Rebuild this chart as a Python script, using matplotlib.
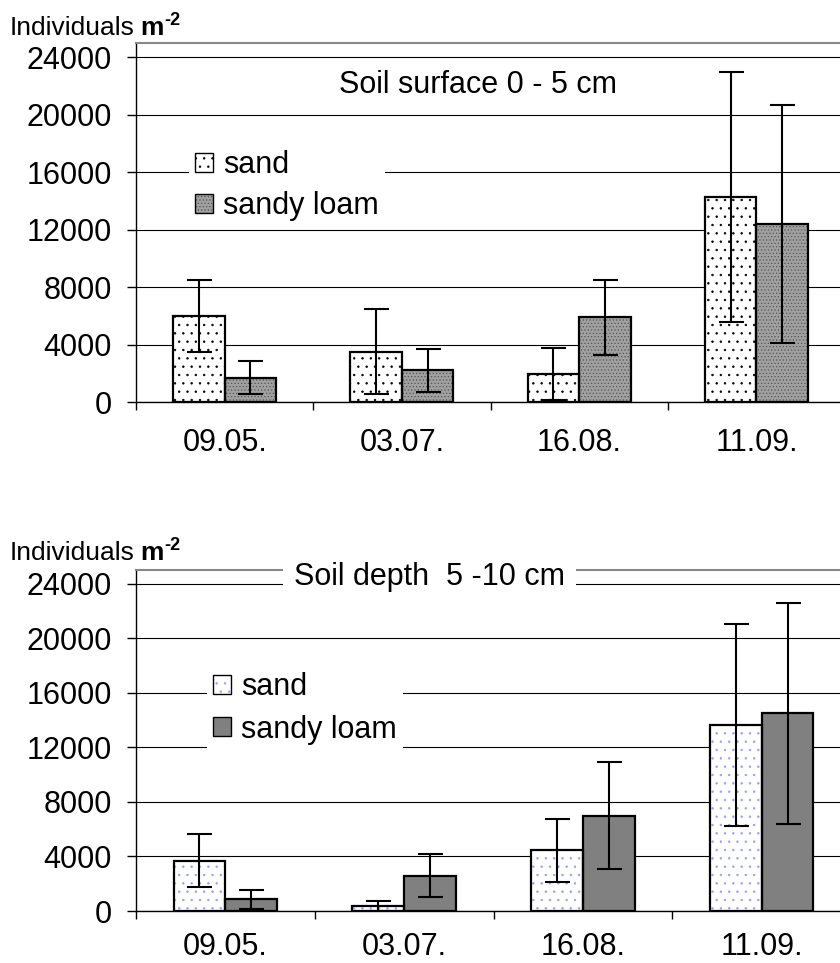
import matplotlib
matplotlib.use("Agg")
import matplotlib.pyplot as plt
from matplotlib.patches import Patch
import numpy as np

plt.rcParams['font.family'] = ['Liberation Sans', 'DejaVu Sans']
plt.rcParams['hatch.linewidth'] = 0.5

dates = ['09.05.', '03.07.', '16.08.', '11.09.']
series = ['sand', 'sandy loam']

# soil surface 0 - 5 cm
top_sand = [6000, 3500, 1950, 14300]
top_sand_err = [2500, 2950, 1800, 8700]
top_loam = [1700, 2200, 5900, 12400]
top_loam_err = [1150, 1500, 2600, 8300]

# soil depth 5 - 10 cm
bot_sand = [3700, 350, 4450, 13650]
bot_sand_err = [1950, 380, 2300, 7400]
bot_loam = [850, 2600, 7000, 14500]
bot_loam_err = [700, 1560, 3900, 8100]

W, H = 840, 963
FS = 22


def draw_bars(ax, x, vals, errs, face, hatch, hatchcolor):
    # fill layer carries the hatch, outline layer the black edge
    ax.bar(x, vals, 0.29, color=face, hatch=hatch, edgecolor=hatchcolor,
           linewidth=0, zorder=3)
    ax.bar(x, vals, 0.29, fill=False, edgecolor='black', linewidth=1.6, zorder=3.5)
    ax.errorbar(x, vals, yerr=errs, fmt='none', ecolor='black', elinewidth=1.5,
                capsize=9, capthick=1.5, zorder=4)


def style_axes(ax, xpad):
    ax.set_xlim(-0.5, 3.5)
    ax.set_ylim(0, 25000)
    ax.set_yticks(np.arange(0, 24001, 4000))
    ax.set_axisbelow(True)
    ax.yaxis.grid(True, color='black', linewidth=0.8)
    ax.set_xticks(range(len(dates)))
    ax.set_xticklabels(dates)
    ax.set_xticks(np.arange(-0.5, 3.6, 1), minor=True)
    ax.tick_params(axis='x', which='major', length=0, pad=xpad, labelsize=FS)
    ax.tick_params(axis='x', which='minor', length=6, width=1, direction='out')
    ax.tick_params(axis='y', length=6.5, width=1, pad=11, labelsize=FS)
    ax.spines['right'].set_visible(False)
    ax.spines['top'].set_color('#888888')
    ax.spines['top'].set_linewidth(1.5)
    ax.spines['left'].set_linewidth(1)
    ax.spines['bottom'].set_linewidth(1)


def unit_label(ax, ybase):
    t = ax.figure.text(10 / W, 1 - ybase / H, 'Individuals', fontsize=19,
                       ha='left', va='baseline')
    m = ax.annotate('m', xy=(1, 0), xycoords=t, xytext=(4, 0),
                    textcoords='offset points', ha='left', va='bottom',
                    fontsize=19, fontweight='bold')
    ax.annotate('-2', xy=(1, 1), xycoords=m, xytext=(0, 3),
                textcoords='offset points', ha='left', va='top',
                fontsize=13, fontweight='bold')


fig = plt.figure(figsize=(W / 100, H / 100), dpi=100)
x = np.arange(len(dates))

# upper panel
ax1 = fig.add_axes([136 / W, (H - 402) / H, (845 - 136) / W, 359 / H])
style_axes(ax1, 19)
draw_bars(ax1, x - 0.145, top_sand, top_sand_err, 'white', '..', 'black')
draw_bars(ax1, x + 0.145, top_loam, top_loam_err, '#a0a0a0', '.....', '#555555')
ax1.text(0.482, 0.883, 'Soil surface 0 - 5 cm', transform=ax1.transAxes,
         ha='center', va='center', fontsize=FS)
h1 = [(Patch(facecolor='white', hatch='..', edgecolor='black', linewidth=0),
       Patch(fill=False, edgecolor='black', linewidth=1)),
      (Patch(facecolor='#a0a0a0', hatch='.....', edgecolor='#555555', linewidth=0),
       Patch(fill=False, edgecolor='black', linewidth=1))]
ax1.legend(h1, series, loc='upper left', bbox_to_anchor=(0.075, 0.719),
           fontsize=FS, frameon=True, facecolor='white', edgecolor='none',
           fancybox=False, framealpha=1, handlelength=0.58, handleheight=0.58,
           handletextpad=0.33, labelspacing=0.37, borderpad=0.2, borderaxespad=0)
unit_label(ax1, 35)

# lower panel
ax2 = fig.add_axes([136 / W, (H - 911) / H, (851 - 136) / W, 341 / H])
style_axes(ax2, 15)
draw_bars(ax2, x - 0.145, bot_sand, bot_sand_err, 'white', '..', '#9a9aff')
draw_bars(ax2, x + 0.145, bot_loam, bot_loam_err, '#808080', None, '#808080')
ax2.text(0.411, 0.979, 'Soil depth  5 -10 cm', transform=ax2.transAxes,
         ha='center', va='center', fontsize=FS, zorder=6, clip_on=False,
         bbox=dict(facecolor='white', edgecolor='none', pad=8))
h2 = [(Patch(facecolor='white', hatch='..', edgecolor='#9a9aff', linewidth=0),
       Patch(fill=False, edgecolor='black', linewidth=1)),
      Patch(facecolor='#808080', edgecolor='black', linewidth=1)]
ax2.legend(h2, series, loc='upper left', bbox_to_anchor=(0.099, 0.719),
           fontsize=FS, frameon=True, facecolor='white', edgecolor='none',
           fancybox=False, framealpha=1, handlelength=0.58, handleheight=0.58,
           handletextpad=0.33, labelspacing=0.42, borderpad=0.2, borderaxespad=0)
unit_label(ax2, 560)

fig.savefig('out.png', dpi=100)
